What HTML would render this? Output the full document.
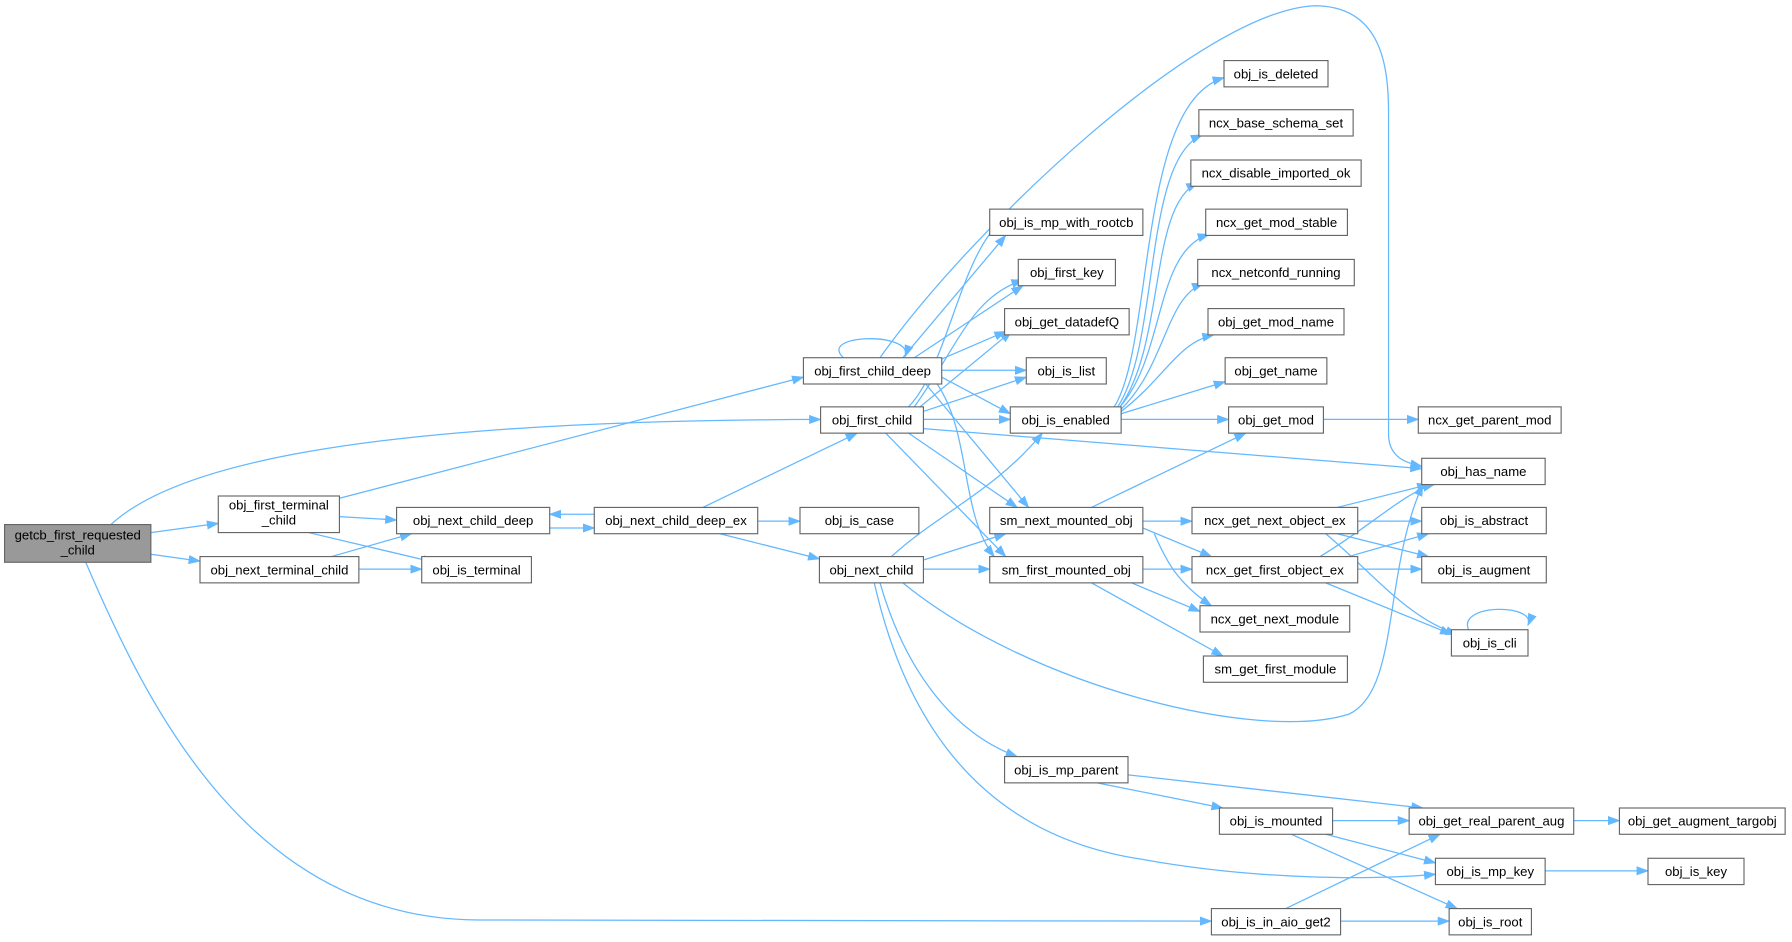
<!DOCTYPE html>
<html><head><meta charset="utf-8"><style>
html,body{margin:0;padding:0;background:#fff;}
svg{display:block}
text{font-family:"Liberation Sans",Arial,sans-serif;font-size:11.5px;fill:#000;text-anchor:middle;}
.n{fill:#fff;stroke:#666;stroke-width:1}
.e{fill:none;stroke:#63b8ff;stroke-width:1.1}
</style></head><body>
<svg width="1792" height="942" viewBox="0 0 1568 824.25" xmlns="http://www.w3.org/2000/svg">
<defs><marker id="a" markerWidth="11" markerHeight="8" refX="10" refY="4" orient="auto" markerUnits="userSpaceOnUse"><polygon points="0,0 11,4 0,8" fill="#63b8ff"/></marker></defs>
<g class="e" marker-end="url(#a)">
<path d="M97,459 C150,410 300,368 718,367"/>
<path d="M132,466 L191,458"/>
<path d="M132,485 L175,491"/>
<path d="M75,492 C130,620 220,805 420,805 L1060,806"/>
<path d="M297,436 L703,330"/>
<path d="M297,452 L347,455"/>
<path d="M270,466 L380,492"/>
<path d="M290,487 L360,467"/>
<path d="M314,498 L369,498"/>
<path d="M481,462 L520,462"/>
<path d="M520,450 L481,450"/>
<path d="M663,456 L700,456"/>
<path d="M615,444 L750,379"/>
<path d="M630,467 L717,489"/>
<path d="M738,313 C715,292 800,290 792,312"/>
<path d="M770,313 C850,200 1050,10 1150,5 C1210,5 1215,60 1215,100 L1215,380 C1215,400 1230,405 1244,408"/>
<path d="M790,313 L880,206"/>
<path d="M800,313 L895,250"/>
<path d="M815,318 L880,290"/>
<path d="M824,324 L898,324"/>
<path d="M824,330 L884,362"/>
<path d="M810,336 L900,444"/>
<path d="M820,336 C850,380 840,450 870,487"/>
<path d="M795,356 C830,320 840,220 880,190"/>
<path d="M800,356 C840,300 850,260 895,245"/>
<path d="M805,356 L885,290"/>
<path d="M808,360 L898,330"/>
<path d="M808,367 L884,367"/>
<path d="M808,375 L1244,410"/>
<path d="M795,379 L890,444"/>
<path d="M775,379 L880,487"/>
<path d="M780,487 C820,450 870,430 912,379"/>
<path d="M808,490 L880,467"/>
<path d="M808,498 L866,498"/>
<path d="M790,510 C900,600 1100,650 1180,625 C1225,605 1210,500 1245,424"/>
<path d="M770,510 C790,580 830,640 890,662"/>
<path d="M765,510 C790,620 850,730 1000,752 C1100,770 1200,770 1256,765"/>
<path d="M975,356 C1010,300 995,90 1071,68"/>
<path d="M978,356 C1015,300 1000,140 1052,118"/>
<path d="M980,356 C1020,300 1005,180 1048,160"/>
<path d="M980,356 C1020,310 1010,220 1058,205"/>
<path d="M981,358 C1020,320 1020,260 1053,248"/>
<path d="M981,360 C1020,330 1030,300 1062,293"/>
<path d="M981,362 L1072,334"/>
<path d="M981,367 L1075,367"/>
<path d="M955,444 L1090,379"/>
<path d="M1000,456 L1043,456"/>
<path d="M1000,462 L1060,487"/>
<path d="M1010,467 C1020,490 1030,510 1060,530"/>
<path d="M1000,498 L1043,498"/>
<path d="M990,510 L1050,535"/>
<path d="M955,510 L1070,574"/>
<path d="M1170,444 L1250,424"/>
<path d="M1188,456 L1244,456"/>
<path d="M1170,467 L1250,487"/>
<path d="M1160,467 C1200,500 1230,540 1275,555"/>
<path d="M1155,487 C1200,460 1230,430 1255,424"/>
<path d="M1180,487 L1250,467"/>
<path d="M1188,498 L1244,498"/>
<path d="M1160,510 L1270,555"/>
<path d="M1285,551 C1275,528 1345,528 1337,547"/>
<path d="M1158,367 L1241,367"/>
<path d="M987,678 L1245,707"/>
<path d="M960,685 L1070,707"/>
<path d="M1166,718 L1233,718"/>
<path d="M1160,730 L1256,755"/>
<path d="M1130,730 L1275,795"/>
<path d="M1125,795 L1260,730"/>
<path d="M1173,806 L1268,806"/>
<path d="M1377,718 L1417,718"/>
<path d="M1352,762 L1442,762"/>
</g>
<rect x="4" y="459" width="128" height="33" fill="#999" stroke="#666"/>
<text x="68" y="472">getcb_first_requested</text><text x="68" y="485">_child</text>
<rect class="n" x="191" y="434" width="106" height="32"/><text x="244" y="446">obj_first_terminal</text><text x="244" y="459">_child</text>
<g id="nodes"></g>
<g>
<rect class="n" x="175" y="487" width="139" height="23"/><text x="244.5" y="502.5">obj_next_terminal_child</text>
<rect class="n" x="347" y="444" width="134" height="23"/><text x="414" y="459.5">obj_next_child_deep</text>
<rect class="n" x="369" y="487" width="96" height="23"/><text x="417" y="502.5">obj_is_terminal</text>
<rect class="n" x="520" y="444" width="143" height="23"/><text x="591.5" y="459.5">obj_next_child_deep_ex</text>
<rect class="n" x="700" y="444" width="104" height="23"/><text x="752" y="459.5">obj_is_case</text>
<rect class="n" x="703" y="313" width="121" height="23"/><text x="763.5" y="328.5">obj_first_child_deep</text>
<rect class="n" x="718" y="356" width="90" height="23"/><text x="763" y="371.5">obj_first_child</text>
<rect class="n" x="717" y="487" width="91" height="23"/><text x="762.5" y="502.5">obj_next_child</text>
<rect class="n" x="866" y="183" width="134" height="23"/><text x="933" y="198.5">obj_is_mp_with_rootcb</text>
<rect class="n" x="891" y="227" width="85" height="23"/><text x="933.5" y="242.5">obj_first_key</text>
<rect class="n" x="879" y="270" width="109" height="23"/><text x="933.5" y="285.5">obj_get_datadefQ</text>
<rect class="n" x="898" y="313" width="70" height="23"/><text x="933" y="328.5">obj_is_list</text>
<rect class="n" x="884" y="356" width="97" height="23"/><text x="932.5" y="371.5">obj_is_enabled</text>
<rect class="n" x="866" y="444" width="134" height="23"/><text x="933" y="459.5">sm_next_mounted_obj</text>
<rect class="n" x="866" y="487" width="134" height="23"/><text x="933" y="502.5">sm_first_mounted_obj</text>
<rect class="n" x="879" y="662" width="108" height="23"/><text x="933" y="677.5">obj_is_mp_parent</text>
<rect class="n" x="1071" y="53" width="91" height="23"/><text x="1116.5" y="68.5">obj_is_deleted</text>
<rect class="n" x="1049" y="96" width="135" height="23"/><text x="1116.5" y="111.5">ncx_base_schema_set</text>
<rect class="n" x="1042" y="140" width="149" height="23"/><text x="1116.5" y="155.5">ncx_disable_imported_ok</text>
<rect class="n" x="1055" y="183" width="124" height="23"/><text x="1117" y="198.5">ncx_get_mod_stable</text>
<rect class="n" x="1048" y="227" width="137" height="23"/><text x="1116.5" y="242.5">ncx_netconfd_running</text>
<rect class="n" x="1057" y="270" width="119" height="23"/><text x="1116.5" y="285.5">obj_get_mod_name</text>
<rect class="n" x="1072" y="313" width="89" height="23"/><text x="1116.5" y="328.5">obj_get_name</text>
<rect class="n" x="1075" y="356" width="83" height="23"/><text x="1116.5" y="371.5">obj_get_mod</text>
<rect class="n" x="1043" y="444" width="145" height="23"/><text x="1115.5" y="459.5">ncx_get_next_object_ex</text>
<rect class="n" x="1043" y="487" width="145" height="23"/><text x="1115.5" y="502.5">ncx_get_first_object_ex</text>
<rect class="n" x="1050" y="530" width="131" height="23"/><text x="1115.5" y="545.5">ncx_get_next_module</text>
<rect class="n" x="1053" y="574" width="126" height="23"/><text x="1116" y="589.5">sm_get_first_module</text>
<rect class="n" x="1067" y="707" width="99" height="23"/><text x="1116.5" y="722.5">obj_is_mounted</text>
<rect class="n" x="1060" y="795" width="113" height="23"/><text x="1116.5" y="810.5">obj_is_in_aio_get2</text>
<rect class="n" x="1241" y="356" width="125" height="23"/><text x="1303.5" y="371.5">ncx_get_parent_mod</text>
<rect class="n" x="1244" y="401" width="108" height="23"/><text x="1298" y="416.5">obj_has_name</text>
<rect class="n" x="1244" y="444" width="109" height="23"/><text x="1298.5" y="459.5">obj_is_abstract</text>
<rect class="n" x="1244" y="487" width="109" height="23"/><text x="1298.5" y="502.5">obj_is_augment</text>
<rect class="n" x="1270" y="551" width="67" height="23"/><text x="1303.5" y="566.5">obj_is_cli</text>
<rect class="n" x="1233" y="707" width="144" height="23"/><text x="1305" y="722.5">obj_get_real_parent_aug</text>
<rect class="n" x="1256" y="751" width="96" height="23"/><text x="1304" y="766.5">obj_is_mp_key</text>
<rect class="n" x="1268" y="795" width="72" height="23"/><text x="1304" y="810.5">obj_is_root</text>
<rect class="n" x="1417" y="707" width="145" height="23"/><text x="1489.5" y="722.5">obj_get_augment_targobj</text>
<rect class="n" x="1442" y="751" width="84" height="23"/><text x="1484" y="766.5">obj_is_key</text>
</g>
</svg>
</body></html>
